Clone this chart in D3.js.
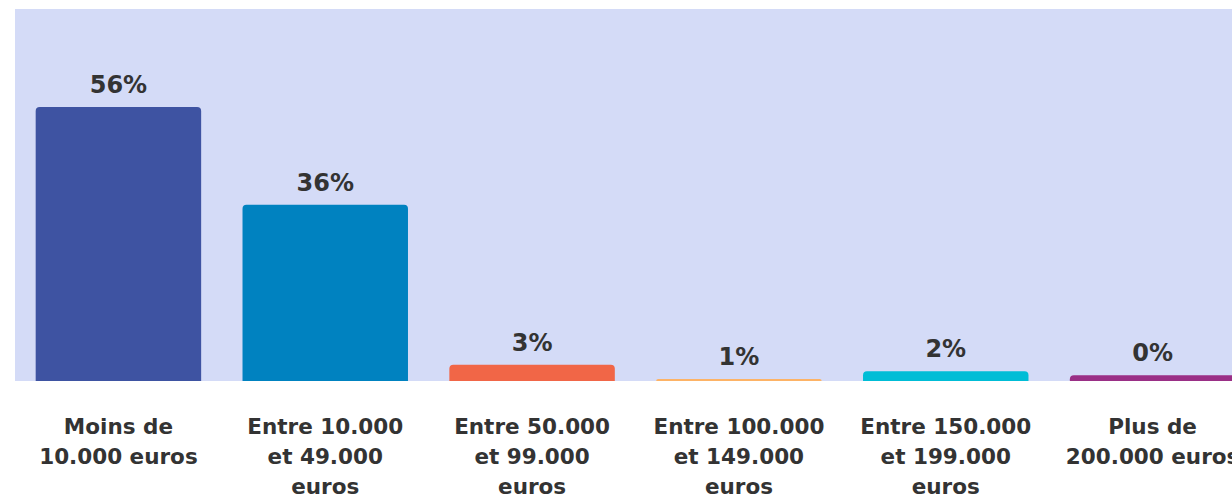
<!DOCTYPE html>
<html>
<head>
<meta charset="utf-8">
<script src="https://cdn.jsdelivr.net/npm/d3@7"></script>
<style>
  body { margin: 0; background: #fff; overflow: hidden; }
  svg { display: block; }
</style>
</head>
<body>
<svg width="1232" height="498"></svg>
<script>
// Chart data
const categories = [
  'Moins de 10.000 euros',
  'Entre 10.000 et 49.000 euros',
  'Entre 50.000 et 99.000 euros',
  'Entre 100.000 et 149.000 euros',
  'Entre 150.000 et 199.000 euros',
  'Plus de 200.000 euros',
];
const values = [56, 36, 3.3, 0.4, 2, 1.2];
const valueLabels = ['56%', '36%', '3%', '1%', '2%', '0%'];
const colors = ['#3e53a2', '#0082c0', '#f16647', '#fdb366', '#00bdd6', '#9a2f86'];

const svg = d3.select('svg');
const margin = { top: 9, left: 15, bottom: 381 };
const plotRight = 1256;

const x = d3.scaleBand()
  .domain(categories)
  .range([margin.left, plotRight])
  .paddingInner(0.2)
  .paddingOuter(0.1);

const y = d3.scaleLinear()
  .domain([0, 56])
  .range([margin.bottom, 107]);

// Background panel
svg.append('rect')
  .attr('x', margin.left)
  .attr('y', margin.top)
  .attr('width', plotRight - margin.left)
  .attr('height', margin.bottom - margin.top)
  .attr('fill', '#d4dbf7');

// Bars with rounded top corners
const r = 4;
svg.selectAll('.bar')
  .data(categories)
  .enter()
  .append('path')
  .attr('class', 'bar')
  .attr('fill', (d, i) => colors[i])
  .attr('d', (d, i) => {
    const x0 = x(d);
    const w = x.bandwidth();
    const top = y(values[i]);
    const base = y(0);
    const rr = Math.min(r, base - top);
    return `M${x0},${base}V${top + rr}Q${x0},${top} ${x0 + rr},${top}`
      + `H${x0 + w - rr}Q${x0 + w},${top} ${x0 + w},${top + rr}V${base}Z`;
  });

// Value labels
svg.selectAll('.value')
  .data(categories)
  .enter()
  .append('text')
  .attr('class', 'value')
  .attr('x', (d) => x(d) + x.bandwidth() / 2)
  .attr('y', (d, i) => y(values[i]) - 14)
  .attr('text-anchor', 'middle')
  .attr('font-family', 'DejaVu Sans, Verdana, sans-serif')
  .attr('font-weight', 'bold')
  .attr('font-size', '24px')
  .attr('fill', '#333')
  .text((d, i) => valueLabels[i]);

// Category axis
const xAxis = d3.axisBottom(x).tickSize(0).tickPadding(0);
const axisG = svg.append('g')
  .attr('transform', `translate(0,${margin.bottom})`)
  .call(xAxis);
axisG.select('.domain').remove();
axisG.selectAll('text')
  .attr('font-family', 'DejaVu Sans, Verdana, sans-serif')
  .attr('font-weight', 'bold')
  .attr('font-size', '21.5px')
  .attr('fill', '#333')
  .attr('y', 53)
  .attr('dy', null)
  .each(function wrap() {
    const text = d3.select(this);
    const words = text.text().split(/\s+/);
    text.text(null);
    let line = [];
    let lineNo = 0;
    let tspan = text.append('tspan').attr('x', 0).attr('y', 53);
    words.forEach((word) => {
      line.push(word);
      tspan.text(line.join(' '));
      if (tspan.node().getComputedTextLength() > 178 && line.length > 1) {
        line.pop();
        tspan.text(line.join(' '));
        line = [word];
        lineNo += 1;
        tspan = text.append('tspan')
          .attr('x', 0)
          .attr('y', 53 + lineNo * 30)
          .text(word);
      }
    });
  });
</script>
</body>
</html>
